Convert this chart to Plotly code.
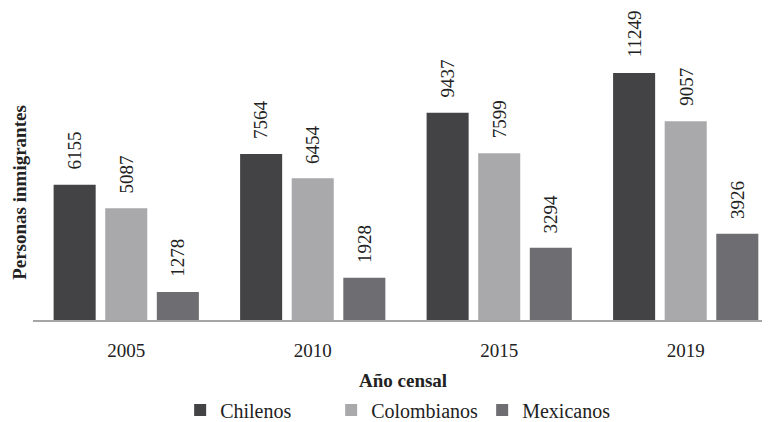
import plotly.graph_objects as go

years = ["2005", "2010", "2015", "2019"]
chilenos = [6155, 7564, 9437, 11249]
colombianos = [5087, 6454, 7599, 9057]
mexicanos = [1278, 1928, 3294, 3926]

series = [
    ("Chilenos", chilenos, "#434345"),
    ("Colombianos", colombianos, "#a9a9ac"),
    ("Mexicanos", mexicanos, "#6e6e72"),
]

FONT = "'Liberation Serif', 'Times New Roman', serif"
BARGAP = 0.17
slot = (1 - BARGAP) / len(series)
LABEL_SIZE = 19
W, H = 762, 422
L, B = 25, 103
PB = H - B  # plot bottom in px
PW = W - L

fig = go.Figure()
annos = []
for i, (name, vals, color) in enumerate(series):
    fig.add_trace(go.Bar(
        x=years, y=vals, name=name,
        marker=dict(color=color, line=dict(width=0)),
    ))
    for j, v in enumerate(vals):
        half_len = len(str(v)) * LABEL_SIZE * 0.5 / 2
        annos.append(dict(
            x=j + (i - 1) * slot, y=v, xref="x", yref="y", text=str(v),
            textangle=-90, xanchor="center", yanchor="middle",
            yshift=15 + half_len,
            showarrow=False, font=dict(family=FONT, size=LABEL_SIZE, color="#222"),
        ))

annos += [
    dict(text="<b>Año censal</b>", xref="paper", yref="paper", x=(395 - L) / PW,
         y=-(381 - PB) / PB, xanchor="center", yanchor="middle", showarrow=False,
         font=dict(family=FONT, size=19, color="#222")),
    dict(text="<b>Personas inmigrantes</b>", xref="paper", yref="paper",
         x=-(L - 12) / PW, y=(PB - 189) / PB, textangle=-90, xanchor="center",
         yanchor="middle", showarrow=False, borderpad=0, borderwidth=0,
         font=dict(family=FONT, size=19, color="#222")),
]

fig.update_layout(
    width=W, height=H,
    margin=dict(l=L, r=0, t=0, b=B),
    paper_bgcolor="white", plot_bgcolor="white",
    barmode="group", bargap=BARGAP, bargroupgap=0.185,
    font=dict(family=FONT, size=19, color="#222"),
    showlegend=True,
    legend=dict(orientation="h", x=0.507, xanchor="center", y=-(411 - PB) / PB,
                yanchor="middle", entrywidth=106,
                font=dict(family=FONT, size=20, color="#222")),
    xaxis=dict(type="category", range=[-0.5, 3.452], showline=True,
               linecolor="#a5a5a5", linewidth=1.5, ticks="", ticklabelstandoff=12,
               tickfont=dict(family=FONT, size=19, color="#222"), showgrid=False,
               zeroline=False),
    yaxis=dict(range=[0, 14210], visible=False, showgrid=False, zeroline=False),
    annotations=annos,
)

fig.write_html("out.html", config={"displayModeBar": False})
